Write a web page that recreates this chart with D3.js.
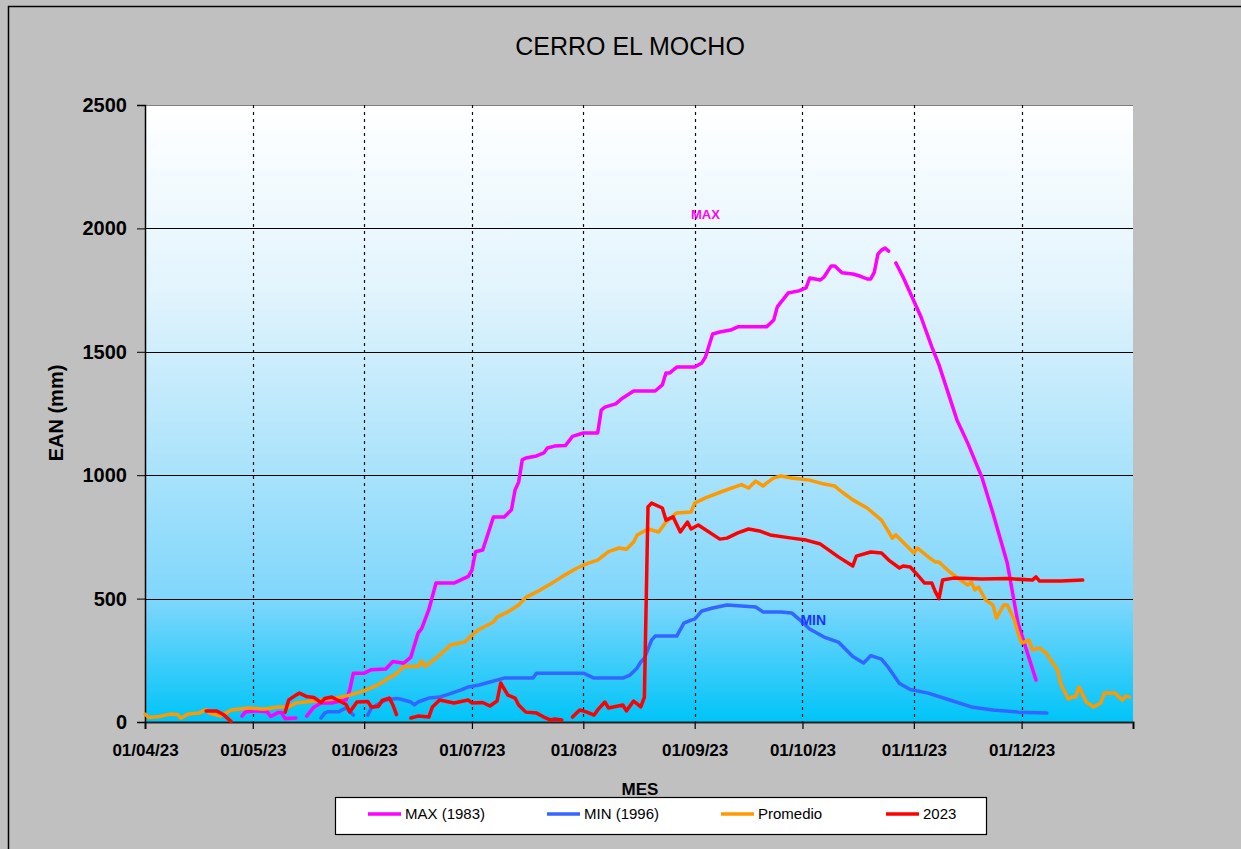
<!DOCTYPE html>
<html>
<head>
<meta charset="utf-8">
<script src="https://cdn.jsdelivr.net/npm/d3@7"></script>
<style>
  body { margin: 0; background: #c0c0c0; }
  svg { display: block; font-family: "Liberation Sans", Arial, sans-serif; }
</style>
</head>
<body>
<div id="chart"></div>
<script>
// EAN (mm) series, read as [dd/mm, value]; null = gap in the record
var maxSeries = [["28/04",24],["29/04",42],["02/05",45],["05/05",42],["06/05",22],["08/05",38],["09/05",38],["10/05",14],["13/05",16],["14/05",null],
  ["16/05",24],["18/05",60],["20/05",77],["23/05",77],["27/05",90],["28/05",130],["29/05",198],["01/06",198],["03/06",212],["07/06",215],
  ["09/06",245],["12/06",238],["14/06",263],["16/06",360],["17/06",378],["19/06",455],["21/06",563],["26/06",563],["30/06",590],["01/07",615],
  ["02/07",690],["04/07",697],["07/07",831],["10/07",831],["12/07",860],["13/07",940],["14/07",972],["15/07",1062],["16/07",1070],["19/07",1078],
  ["21/07",1090],["22/07",1110],["24/07",1118],["27/07",1120],["29/07",1157],["01/08",1171],["05/08",1171],["06/08",1264],["07/08",1276],["10/08",1289],
  ["12/08",1313],["15/08",1341],["21/08",1341],["23/08",1366],["24/08",1414],["25/08",1414],["27/08",1438],["01/09",1438],["03/09",1455],["04/09",1479],
  ["06/09",1572],["08/09",1580],["11/09",1588],["13/09",1601],["21/09",1601],["23/09",1629],["24/09",1682],["27/09",1738],["30/09",1747],["02/10",1759],
  ["03/10",1799],["06/10",1791],["07/10",1803],["09/10",1848],["10/10",1848],["12/10",1820],["15/10",1815],["17/10",1807],["19/10",1795],["20/10",1795],
  ["21/10",1823],["22/10",1896],["23/10",1912],["24/10",1920],["25/10",1908],["26/10",null],["27/10",1860],["29/10",1803],["31/10",1738],["03/11",1641],
  ["06/11",1520],["08/11",1447],["13/11",1224],["16/11",1130],["20/11",989],["23/11",847],["27/11",644],["30/11",400],["05/12",170]]

var minSeries = [["20/05",16],["21/05",36],["22/05",42],["25/05",42],["27/05",58],["28/05",42],["29/05",28],["30/05",null],["02/06",28],["03/06",57],
  ["07/06",89],["10/06",95],["11/06",93],["14/06",81],["15/06",69],["16/06",81],["19/06",97],["22/06",101],["25/06",115],["28/06",130],
  ["30/06",142],["03/07",150],["06/07",162],["10/07",178],["18/07",178],["19/07",198],["01/08",198],["04/08",178],["12/08",178],["14/08",190],
  ["16/08",219],["17/08",243],["18/08",259],["20/08",332],["21/08",348],["27/08",348],["29/08",401],["31/08",413],["01/09",417],["03/09",450],
  ["06/09",462],["10/09",474],["14/09",470],["18/09",466],["20/09",446],["25/09",446],["28/09",442],["30/09",417],["03/10",377],["07/10",344],
  ["11/10",324],["15/10",265],["18/10",239],["20/10",269],["23/10",255],["25/10",219],["28/10",156],["31/10",132],["05/11",117],["11/11",89],
  ["17/11",61],["23/11",49],["30/11",40],["08/12",36]]

var promSeries = [["01/04",32],["02/04",18],["05/04",22],["08/04",32],["10/04",30],["11/04",16],["13/04",32],["16/04",36],["18/04",50],["19/04",36],
  ["22/04",24],["25/04",49],["30/04",57],["04/05",52],["08/05",61],["11/05",61],["13/05",77],["18/05",85],["23/05",93],["28/05",109],
  ["31/05",122],["04/06",144],["07/06",170],["10/06",196],["12/06",225],["16/06",225],["17/06",247],["18/06",225],["21/06",259],["23/06",284],
  ["25/06",312],["29/06",324],["01/07",352],["03/07",375],["07/07",405],["08/07",425],["11/07",446],["14/07",474],["16/07",505],["19/07",527],
  ["23/07",560],["26/07",588],["30/07",622],["02/08",642],["05/08",656],["08/08",690],["11/08",705],["13/08",700],["15/08",729],["16/08",758],
  ["19/08",782],["22/08",770],["24/08",810],["27/08",847],["31/08",851],["01/09",887],["04/09",908],["09/09",936],["14/09",962],["16/09",948],
  ["18/09",976],["20/09",956],["21/09",968],["23/09",989],["25/09",997],["28/09",989],["03/10",980],["07/10",964],["10/10",956],["12/10",932],
  ["15/10",900],["19/10",867],["23/10",818],["25/10",770],["26/10",745],["27/10",758],["01/11",685],["02/11",705],["05/11",669],["07/11",648],
  ["08/11",648],["11/11",608],["14/11",575],["16/11",555],["17/11",567],["18/11",535],["19/11",547],["21/11",494],["23/11",474],["24/11",421],
  ["26/11",474],["27/11",474],["29/11",413],["30/11",361],["01/12",320],["03/12",332],["04/12",292],["06/12",300],["08/12",276],["11/12",211],
  ["12/12",150],["14/12",93],["15/12",101],["16/12",101],["17/12",142],["19/12",81],["21/12",61],["23/12",77],["24/12",117],["27/12",117],
  ["29/12",89],["30/12",105],["31/12",101]]

var s2023 = [["18/04",45],["21/04",45],["23/04",28],["25/04",2],["26/04",null],["10/05",40],["11/05",89],["13/05",109],["14/05",117],["16/05",103],
  ["18/05",99],["20/05",79],["21/05",95],["23/05",101],["24/05",93],["27/05",71],["28/05",40],["30/05",81],["02/06",83],["03/06",61],
  ["05/06",63],["06/06",87],["08/06",97],["09/06",69],["10/06",30],["11/06",null],["14/06",16],["16/06",24],["19/06",20],["20/06",61],
  ["22/06",89],["26/06",77],["28/06",83],["30/06",89],["01/07",77],["04/07",79],["06/07",65],["08/07",85],["09/07",158],["11/07",109],
  ["13/07",97],["14/07",69],["16/07",40],["19/07",36],["21/07",20],["23/07",8],["24/07",12],["26/07",8],["27/07",null],["29/07",20],
  ["31/07",49],["02/08",40],["04/08",28],["05/08",49],["07/08",81],["08/08",57],["12/08",69],["13/08",45],["15/08",85],["17/08",61],
  ["18/08",101],["19/08",871],["20/08",887],["23/08",867],["24/08",818],["26/08",831],["28/08",770],["30/08",810],["31/08",782],["02/09",798],
  ["08/09",741],["10/09",745],["13/09",766],["16/09",782],["19/09",774],["22/09",758],["28/09",745],["02/10",737],["06/10",721],["11/10",669],
  ["15/10",632],["16/10",672],["20/10",689],["23/10",685],["25/10",656],["28/10",624],["29/10",632],["31/10",628],["02/11",596],["04/11",563],
  ["06/11",563],["07/11",527],["08/11",500],["09/11",575],["12/11",583],["20/11",579],["27/11",581],["04/12",575],["05/12",588],["06/12",571],
  ["12/12",571],["18/12",575]]

var yTicks = [0, 500, 1000, 1500, 2000, 2500]
var legendNames = ["MAX (1983)", "MIN (1996)", "Promedio", "2023"]
var colors = ["#ff00ff", "#3366ff", "#ff9900", "#ff0000"]

var w = 1241, h = 849
var plot = {l: 145, t: 105, r: 1133, b: 722}

var svg = d3.select("#chart").append("svg")
	.attr("width", w)
	.attr("height", h)

var parse = d3.timeParse("%d/%m/%Y")
function toPoints(s) {
	return s.map(function(d) { return {date: parse(d[0] + "/2023"), v: d[1]} })
}

var x = d3.scaleTime()
	.domain([parse("01/04/2023"), parse("01/01/2024")])
	.range([plot.l, plot.r])

var y = d3.scaleLinear()
	.domain([0, 2500])
	.range([plot.b, plot.t])

// background + frame
svg.append("rect").attr("width", w).attr("height", h).attr("fill", "#c0c0c0")
svg.append("rect")
	.attr("x", 8.5).attr("y", 6.5)
	.attr("width", w).attr("height", h)
	.attr("fill", "none").attr("stroke", "#000").attr("stroke-width", 1.5)

// plot area gradient
var grad = svg.append("defs").append("linearGradient")
	.attr("id", "bg").attr("x1", 0).attr("y1", 0).attr("x2", 0).attr("y2", 1)
var stops = [[0, "#ffffff"], [0.3, "#e2f4fd"], [0.6, "#a8e2fb"], [0.8, "#80d7fc"], [1, "#00c4f8"]]
stops.forEach(function(s) {
	grad.append("stop").attr("offset", s[0]).attr("stop-color", s[1])
})

svg.append("rect")
	.attr("x", plot.l).attr("y", plot.t)
	.attr("width", plot.r - plot.l).attr("height", plot.b - plot.t)
	.attr("fill", "url(#bg)")

var months = x.ticks(d3.timeMonth.every(1)).filter(function(d) { return d < x.domain()[1] })

// grid
svg.append("g").selectAll("line")
	.data(yTicks.filter(function(d) { return d > 0 && d < 2500 }))
	.enter().append("line")
	.attr("x1", plot.l).attr("x2", plot.r)
	.attr("y1", function(d) { return Math.round(y(d)) + 0.5 })
	.attr("y2", function(d) { return Math.round(y(d)) + 0.5 })
	.attr("stroke", "#000").attr("stroke-width", 1.2)

svg.append("line")
	.attr("x1", plot.l).attr("x2", plot.r)
	.attr("y1", plot.t + 0.5).attr("y2", plot.t + 0.5)
	.attr("stroke", "#808080").attr("stroke-width", 1.2)

svg.append("g").selectAll("line")
	.data(months.slice(1))
	.enter().append("line")
	.attr("x1", function(d) { return Math.round(x(d)) + 0.5 })
	.attr("x2", function(d) { return Math.round(x(d)) + 0.5 })
	.attr("y1", plot.t).attr("y2", plot.b)
	.attr("stroke", "#111").attr("stroke-width", 1.2)
	.attr("stroke-dasharray", "3,4")

// axes
var yAxis = d3.axisLeft(y).tickValues(yTicks).tickFormat(d3.format("d")).tickSize(8).tickPadding(10)
var yg = svg.append("g").attr("transform", "translate(" + plot.l + ",0)").call(yAxis)
yg.select(".domain").attr("stroke", "#000").attr("stroke-width", 1.5)
yg.selectAll("line").attr("stroke", "#000")
yg.selectAll("text")
	.attr("font-size", "20px").attr("font-weight", "bold").attr("fill", "#000")
	.attr("font-family", "Liberation Sans, Arial, sans-serif")

var xAxis = d3.axisBottom(x)
	.tickValues(months.concat([x.domain()[1]]))
	.tickFormat(function(d) { return d < x.domain()[1] ? d3.timeFormat("%d/%m/%y")(d) : "" })
	.tickSize(7).tickPadding(15)
var xg = svg.append("g").attr("transform", "translate(0," + plot.b + ")").call(xAxis)
xg.select(".domain").attr("stroke", "#222").attr("stroke-width", 2)
xg.selectAll("line").attr("stroke", "#000").attr("stroke-width", 1.2)
xg.selectAll("text")
	.attr("font-size", "17px").attr("font-weight", "bold").attr("fill", "#000")
	.attr("font-family", "Liberation Sans, Arial, sans-serif")

// series
var line = d3.line()
	.defined(function(d) { return d.v != null })
	.x(function(d) { return x(d.date) })
	.y(function(d) { return y(d.v) })

var lines = [maxSeries, minSeries, promSeries, s2023]
var lineG = svg.append("g")
lines.forEach(function(s, i) {
	lineG.append("path")
		.attr("d", line(toPoints(s)))
		.attr("fill", "none")
		.attr("stroke", colors[i])
		.attr("stroke-width", 3.5)
		.attr("stroke-linejoin", "round")
		.attr("stroke-linecap", "round")
})

// in-plot labels
svg.append("text")
	.attr("x", x(parse("04/09/2023"))).attr("y", 219)
	.attr("text-anchor", "middle")
	.attr("font-size", "13px").attr("font-weight", "bold")
	.attr("fill", "#ff00ff").text("MAX")
svg.append("text")
	.attr("x", x(parse("04/10/2023"))).attr("y", 625)
	.attr("text-anchor", "middle")
	.attr("font-size", "14px").attr("font-weight", "bold")
	.attr("fill", "#1a33ff").text("MIN")

// titles
svg.append("text")
	.attr("x", 630).attr("y", 55)
	.attr("text-anchor", "middle")
	.attr("font-size", "25px").text("CERRO EL MOCHO")

svg.append("text")
	.attr("transform", "translate(63,413) rotate(-90)")
	.attr("text-anchor", "middle")
	.attr("font-size", "20px").attr("font-weight", "bold")
	.text("EAN (mm)")

svg.append("text")
	.attr("x", 640).attr("y", 795)
	.attr("text-anchor", "middle")
	.attr("font-size", "17px").attr("font-weight", "bold")
	.text("MES")

// legend
var leg = svg.append("g")
leg.append("rect")
	.attr("x", 335.5).attr("y", 797.5).attr("width", 651).attr("height", 37)
	.attr("fill", "#fff").attr("stroke", "#000").attr("stroke-width", 1.2)
var legX = [368, 547, 721, 886]
legendNames.forEach(function(n, i) {
	leg.append("line")
		.attr("x1", legX[i]).attr("x2", legX[i] + 33)
		.attr("y1", 814).attr("y2", 814)
		.attr("stroke", colors[i]).attr("stroke-width", 3.5)
	leg.append("text")
		.attr("x", legX[i] + 37).attr("y", 819)
		.attr("font-size", "15px").text(n)
})
</script>
</body>
</html>
